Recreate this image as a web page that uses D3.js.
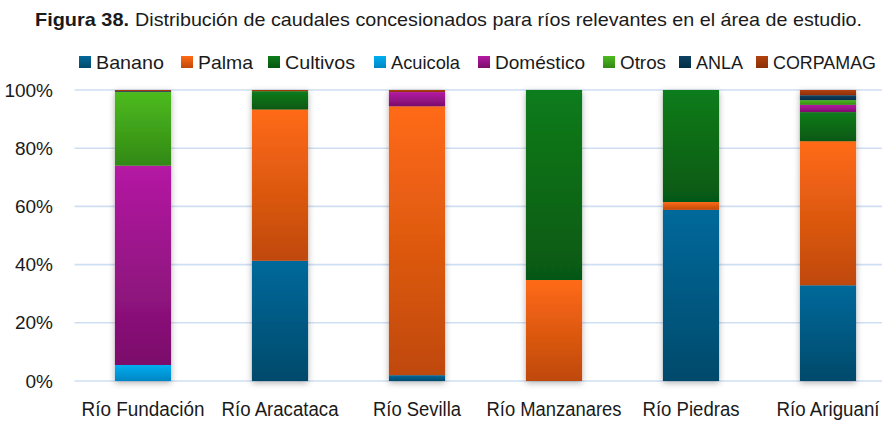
<!DOCTYPE html>
<html lang="es">
<head>
<meta charset="utf-8">
<script src="https://cdn.jsdelivr.net/npm/d3@7"></script>
<style>
  html, body { margin: 0; padding: 0; background: #fff; }
  svg { display: block; }
  text { font-family: "Liberation Sans", Arial, sans-serif; fill: #1a1a1a; }
</style>
</head>
<body>
<svg id="chart" width="893" height="423"></svg>
<script>
// Rivers on the x axis
const categories = ["Río Fundación", "Río Aracataca", "Río Sevilla", "Río Manzanares", "Río Piedras", "Río Ariguaní"];

// Share of granted flow (%) per use, one array per series
const banano    = [0.0, 41.3,  2.0,  0.0, 58.8, 32.9];
const palma     = [0.0, 52.0, 92.4, 34.7,  2.7, 49.5];
const cultivos  = [0.0,  6.3,  0.0, 65.3, 38.5, 10.0];
const acuicola  = [5.5,  0.0,  0.0,  0.0,  0.0,  0.0];
const domestico = [68.5, 0.0,  4.9,  0.0,  0.0,  2.5];
const otros     = [25.3, 0.0,  0.0,  0.0,  0.0,  1.6];
const anla      = [0.3,  0.0,  0.0,  0.0,  0.0,  1.7];
const corpamag  = [0.4,  0.4,  0.7,  0.0,  0.0,  1.8];

const seriesNames = ["Banano", "Palma", "Cultivos", "Acuicola", "Doméstico", "Otros", "ANLA", "CORPAMAG"];
const seriesValues = [banano, palma, cultivos, acuicola, domestico, otros, anla, corpamag];

const yTicks = [0, 0.2, 0.4, 0.6, 0.8, 1.0];

// Gradient stops (top, bottom) for each series
const colorTop    = ["#05699b", "#ff6a14", "#107c1b", "#00aef0", "#b41aa3", "#4dbb1f", "#0d4262", "#b2420f"];
const colorBottom = ["#004a6b", "#bf490e", "#065812", "#0086c4", "#7b0e6a", "#328814", "#032e45", "#8c2e06"];

// Set widths of the condensed-looking labels
const xLabelWidths = [123, 117, 88, 135, 97, 103];
const legendSwatchX = [79, 181, 268, 374, 478, 603, 679, 756];
const legendTextWidths = [68, 55, 70, 69, 90, 46, 47, 103];

const svg = d3.select("#chart");
const defs = svg.append("defs");

seriesNames.forEach((name, i) => {
  const g = defs.append("linearGradient")
    .attr("id", "grad" + i)
    .attr("x1", 0).attr("y1", 0).attr("x2", 0).attr("y2", 1);
  g.append("stop").attr("offset", "0%").attr("stop-color", colorTop[i]);
  g.append("stop").attr("offset", "100%").attr("stop-color", colorBottom[i]);
});

const shadow = defs.append("filter").attr("id", "barShadow")
  .attr("x", "-30%").attr("y", "-10%").attr("width", "160%").attr("height", "120%");
shadow.append("feDropShadow")
  .attr("dx", 0).attr("dy", 2).attr("stdDeviation", 3)
  .attr("flood-color", "#000").attr("flood-opacity", 0.3);

// Table for the stack
const table = categories.map((c, j) => {
  const row = { category: c };
  seriesNames.forEach((s, i) => { row[s] = seriesValues[i][j]; });
  return row;
});

const stacked = d3.stack().keys(seriesNames).offset(d3.stackOffsetExpand)(table);

const plotLeft = 74.5, plotRight = 896.5, plotTop = 90, plotBottom = 381;

const x = d3.scaleBand()
  .domain(categories)
  .range([plotLeft, plotRight])
  .paddingInner(0.59)
  .paddingOuter(0.295);

const y = d3.scaleLinear().domain([0, 1]).range([plotBottom, plotTop]);

// Title
const title = svg.append("text")
  .attr("y", 26)
  .style("font-size", "19px");
title.append("tspan").attr("x", 35).attr("font-weight", "bold")
  .attr("textLength", 94).attr("lengthAdjust", "spacingAndGlyphs")
  .text("Figura 38.");
title.append("tspan").attr("x", 135)
  .attr("textLength", 727).attr("lengthAdjust", "spacingAndGlyphs")
  .text("Distribución de caudales concesionados para ríos relevantes en el área de estudio.");

// Gridlines
const grid = svg.append("g");
grid.selectAll("line").data(yTicks).join("line")
  .attr("x1", plotLeft).attr("x2", 882)
  .attr("y1", d => y(d)).attr("y2", d => y(d))
  .attr("stroke", "#cfdff3").attr("stroke-width", 1.6);

// Y axis labels
const yAxis = d3.axisLeft(y).tickValues(yTicks).tickFormat(d3.format(".0%")).tickSize(0).tickPadding(0);
const yAxisG = svg.append("g")
  .attr("transform", `translate(53,0)`)
  .call(yAxis);
yAxisG.select(".domain").remove();
yAxisG.selectAll("text")
  .style("font-size", "19px")
  .style("font-family", "'Liberation Sans', sans-serif")
  .attr("fill", "#1a1a1a");

// Bars
const bars = svg.append("g");
categories.forEach((c, j) => {
  const col = bars.append("g").attr("filter", "url(#barShadow)");
  stacked.forEach((layer, i) => {
    const seg = layer[j];
    const h = y(seg[0]) - y(seg[1]);
    if (h <= 0) return;
    col.append("rect")
      .attr("x", x(c))
      .attr("width", x.bandwidth())
      .attr("y", y(seg[1]))
      .attr("height", h)
      .attr("fill", `url(#grad${i})`);
  });
});

// X axis labels
const xAxis = d3.axisBottom(x).tickSize(0).tickPadding(0);
const xAxisG = svg.append("g")
  .attr("transform", `translate(0,402)`)
  .call(xAxis);
xAxisG.select(".domain").remove();
xAxisG.selectAll("text")
  .style("font-size", "20px")
  .style("font-family", "'Liberation Sans', sans-serif")
  .attr("fill", "#1a1a1a")
  .attr("textLength", (d, i) => xLabelWidths[i])
  .attr("lengthAdjust", "spacingAndGlyphs");

// Legend
const legend = svg.append("g");
seriesNames.forEach((name, i) => {
  const item = legend.append("g").attr("transform", `translate(${legendSwatchX[i]},62)`);
  item.append("rect")
    .attr("x", 0).attr("y", -6).attr("width", 12).attr("height", 12)
    .attr("fill", `url(#grad${i})`);
  item.append("text")
    .attr("x", 17).attr("y", 7)
    .style("font-size", "19px")
    .attr("textLength", legendTextWidths[i])
    .attr("lengthAdjust", "spacingAndGlyphs")
    .text(name);
});
</script>
</body>
</html>
